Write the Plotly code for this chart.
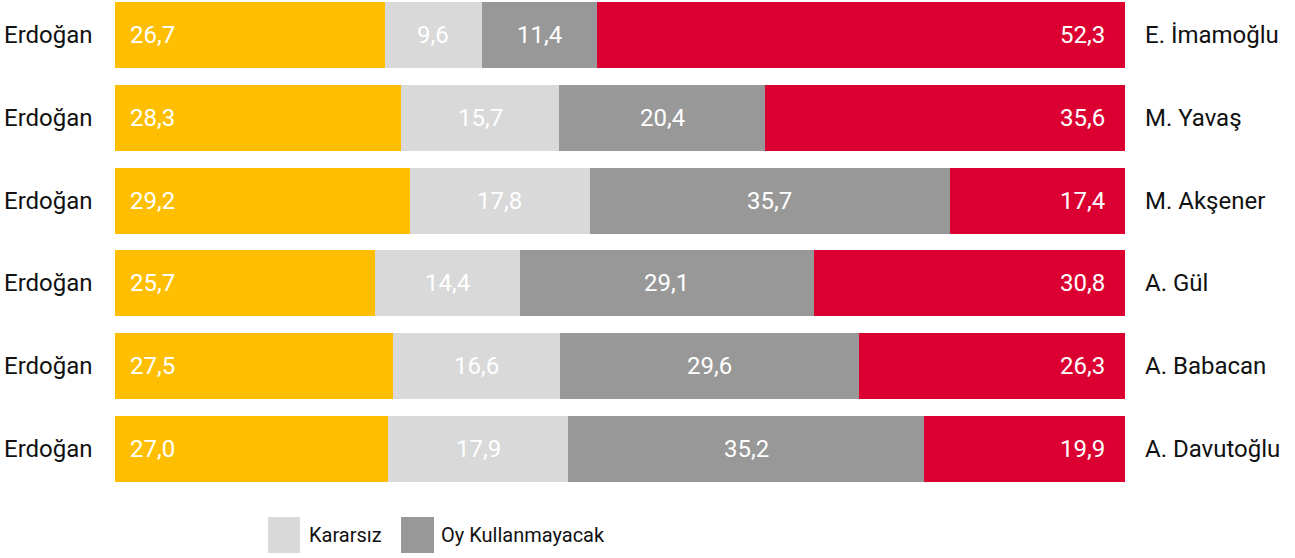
import plotly.graph_objects as go

left_labels = ["Erdoğan"] * 6
right_labels = ["E. İmamoğlu", "M. Yavaş", "M. Akşener", "A. Gül", "A. Babacan", "A. Davutoğlu"]
erdogan = [26.7, 28.3, 29.2, 25.7, 27.5, 27.0]
kararsiz = [9.6, 15.7, 17.8, 14.4, 16.6, 17.9]
oy_kullanmayacak = [11.4, 20.4, 35.7, 29.1, 29.6, 35.2]
rakip = [52.3, 35.6, 17.4, 30.8, 26.3, 19.9]

series_names = ["Erdoğan", "Kararsız", "Oy Kullanmayacak", "Rakip"]
colors = ["#FFBF00", "#D9D9D9", "#989898", "#DC0032"]
FONT = "Roboto, sans-serif"

rows = list(range(6))
fig = go.Figure()
all_series = [erdogan, kararsiz, oy_kullanmayacak, rakip]
for name, vals, col in zip(series_names, all_series, colors):
    fig.add_trace(go.Bar(
        y=rows, x=vals, orientation="h", name=name,
        marker=dict(color=col, line=dict(width=0)),
        width=0.8, showlegend=False, hoverinfo="skip",
    ))

def fmt(v):
    return f"{v:.1f}".replace(".", ",")

annotations = []
for i in rows:
    base = 0.0
    for k, vals in enumerate(all_series):
        v = vals[i]
        if k == 0:
            annotations.append(dict(x=base, y=i, xref="x", yref="y", text=fmt(v),
                                    xanchor="left", xshift=13, showarrow=False,
                                    font=dict(family=FONT, size=24, color="white")))
        elif k == 3:
            annotations.append(dict(x=1, y=i, xref="paper", yref="y", text=fmt(v),
                                    xanchor="right", xshift=-18, showarrow=False,
                                    font=dict(family=FONT, size=24, color="white")))
        else:
            annotations.append(dict(x=base + v / 2, y=i, xref="x", yref="y", text=fmt(v),
                                    xanchor="center", showarrow=False,
                                    font=dict(family=FONT, size=24, color="white")))
        base += v
    annotations.append(dict(x=0, y=i, xref="paper", yref="y", text=left_labels[i],
                            xanchor="right", xshift=-20, showarrow=False,
                            font=dict(family=FONT, size=24, color="#111111")))
    annotations.append(dict(x=1, y=i, xref="paper", yref="y", text=right_labels[i],
                            xanchor="left", xshift=18, showarrow=False,
                            font=dict(family=FONT, size=24, color="#111111")))

# custom legend
legend_items = [("Kararsız", colors[1], 0.1515, 0.1832, 0.190),
                ("Oy Kullanmayacak", colors[2], 0.2832, 0.3158, 0.3208)]
shapes = []
for label, col, x0, x1, xt in legend_items:
    shapes.append(dict(type="rect", xref="paper", yref="paper", x0=x0, x1=x1,
                       y0=-0.148, y1=-0.073, fillcolor=col, line=dict(width=0)))
    annotations.append(dict(x=xt, y=-0.11, xref="paper", yref="paper", text=label,
                            xanchor="left", yanchor="middle", showarrow=False,
                            font=dict(family=FONT, size=20, color="#111111")))

fig.update_layout(
    width=1295, height=558,
    margin=dict(l=115, r=170, t=2, b=76),
    barmode="stack",
    bargap=0,
    plot_bgcolor="white", paper_bgcolor="white",
    xaxis=dict(range=[0, 100], visible=False, fixedrange=True),
    yaxis=dict(range=[5.4, -0.4], visible=False, fixedrange=True),
    annotations=annotations,
    shapes=shapes,
    font=dict(family=FONT),
)

fig.write_html("out.html")
